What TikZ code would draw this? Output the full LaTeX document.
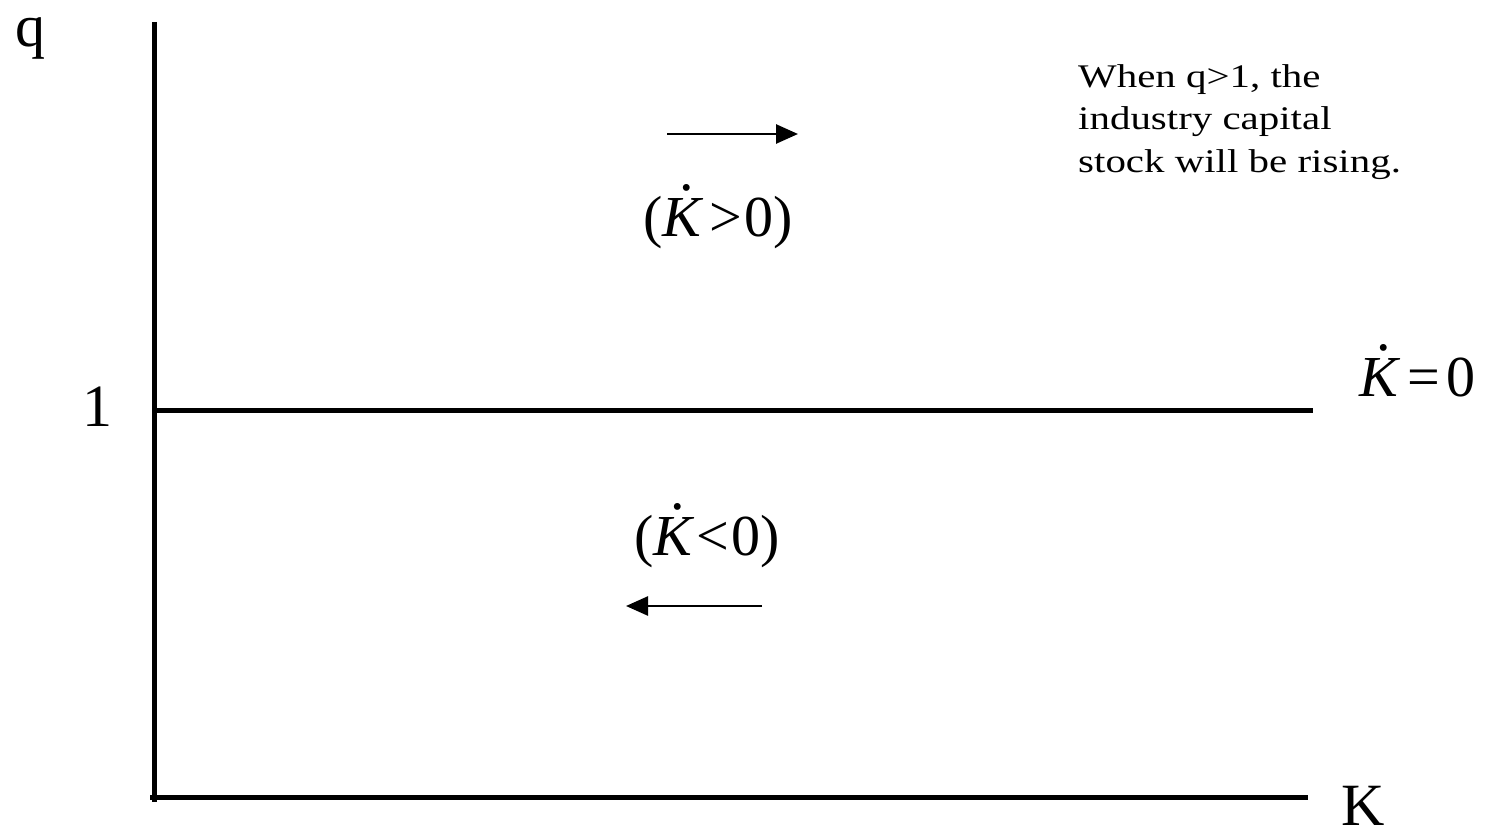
\documentclass[tikz,border=0pt]{standalone}
\usepackage{fontspec}
\setmainfont{Liberation Serif}
\newfontfamily\notefont[FakeStretch=1.24]{Liberation Serif}
\usetikzlibrary{arrows.meta}
\tikzset{
  axis/.style={line width=5pt},
  flow/.style={line width=2.6pt,-{Triangle[length=22pt,width=19pt]}},
  biglabel/.style={inner sep=0pt,font=\fontsize{60}{60}\selectfont},
  mathlabel/.style={inner sep=0pt,font=\fontsize{58}{58}\selectfont},
  note/.style={inner sep=0pt,align=left,font=\notefont\fontsize{33}{42.5}\selectfont}
}
\newcommand{\Kdot}{\ooalign{\itshape K\cr\hidewidth\kern0.18em\raisebox{0.78em}{\upshape.}\hidewidth\cr}}
\begin{document}
\begin{tikzpicture}[x=1pt,y=-1pt]
\useasboundingbox (0,0) rectangle (1494,832);
\coordinate (top) at (154,22);
\coordinate (orig) at (154,802);
\coordinate (xl) at (150,797);
\coordinate (xr) at (1308,797);
\coordinate (one) at (155,410);
\coordinate (oner) at (1313,410);
\draw[axis] (top) -- (orig);
\draw[axis] (xl) -- (xr);
\draw[axis] (one) -- (oner);
\node[biglabel,anchor=base] (qlab) at (31,47) {q};
\node[biglabel,anchor=base] (onelab) at (97,426) {1};
\node[biglabel,anchor=base] (klab) at (1363,825) {K};
\node[mathlabel,anchor=base west] (kzero) at (1359,396) {\Kdot\kern0.16em=\kern0.12em0};
\node[mathlabel,anchor=base] (kpos) at (718,236) {(\Kdot\kern0.14em>\kern0.04em0)};
\node[mathlabel,anchor=base] (kneg) at (707,555) {(\Kdot\kern0.08em<\kern0.04em0)};
\coordinate (r1) at (667,134);
\coordinate (r2) at (798,134);
\coordinate (l1) at (762,606);
\coordinate (l2) at (626,606);
\draw[flow] (r1) -- (r2);
\draw[flow] (l1) -- (l2);
\node[note,anchor=north west] (txt) at (1078,64) {When q>1, the\\industry capital\\stock will be rising.};
\end{tikzpicture}
\end{document}
